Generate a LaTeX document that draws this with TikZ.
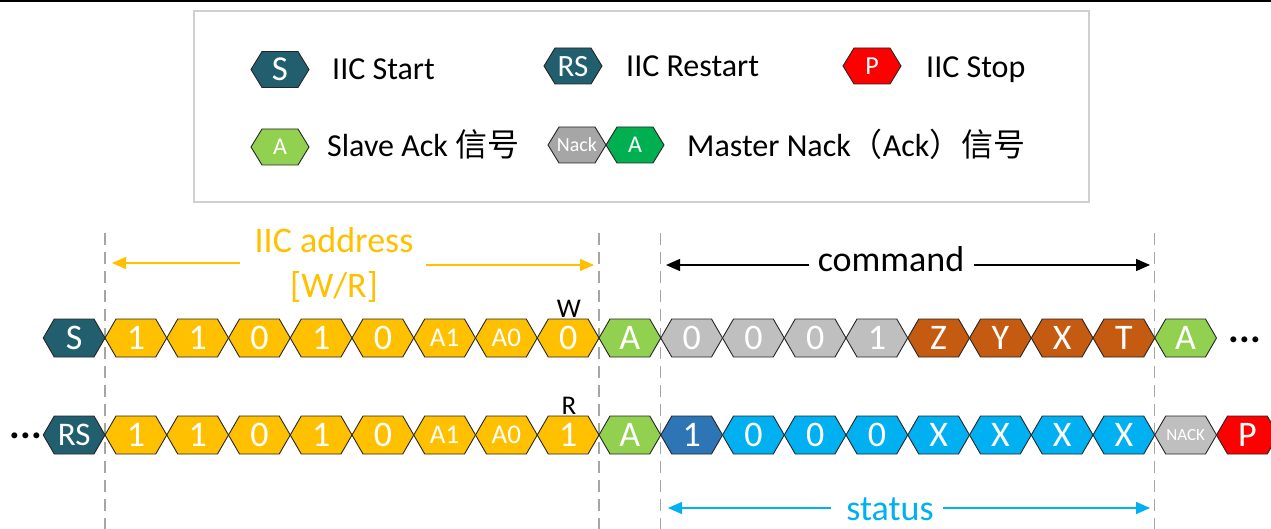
\documentclass[tikz,border=0pt]{standalone}
\usepackage{fontspec}
\setmainfont{Carlito}
\newfontfamily\cjk{Noto Sans CJK SC}
\usetikzlibrary{arrows.meta}
\definecolor{cTeal}{HTML}{215E6E}
\definecolor{cGold}{HTML}{FFC000}
\definecolor{cLGreen}{HTML}{92D050}
\definecolor{cGreen}{HTML}{00B050}
\definecolor{cGray}{HTML}{BFBFBF}
\definecolor{cDGray}{HTML}{A6A6A6}
\definecolor{cBrown}{HTML}{C55A11}
\definecolor{cBlue}{HTML}{2E75B6}
\definecolor{cCyan}{HTML}{00B0F0}
\definecolor{cRed}{HTML}{FF0000}
\definecolor{cGuide}{HTML}{A6A6A6}
\definecolor{cBox}{HTML}{D0D0D0}
\newcommand\myfs[1]{\fontsize{#1}{#1}\selectfont}
% hexagon: #1 name, #2 x, #3 y, #4 fill, #5 text
\def\hw{30.875}\def\hh{19}\def\hi{11}
\newcommand\hexa[5]{%
  \filldraw[hexedge, fill=#4] ({#2-\hw},#3) -- ({#2-\hw+\hi},{#3-\hh}) -- ({#2+\hw-\hi},{#3-\hh}) -- ({#2+\hw},#3) -- ({#2+\hw-\hi},{#3+\hh}) -- ({#2-\hw+\hi},{#3+\hh}) -- cycle;
  \node[hextext] (#1) at (#2,#3) {#5};
}
\begin{document}
\begin{tikzpicture}[x=1pt,y=-1pt,
  hexedge/.style={draw=black!85, line width=0.9pt},
  hextext/.style={text=white, inner sep=0pt, text depth=0pt, font={\myfs{36}}},
  guide/.style={draw=cGuide, line width=1.4pt, dash pattern=on 12pt off 7pt},
  span/.style={line width=1.4pt, -{Triangle[length=14pt,width=12pt]}},
  lbl/.style={inner sep=0pt, anchor=base west, font={\myfs{32}}},
  ann/.style={inner sep=0pt, anchor=base, font={\myfs{36}}},
  rw/.style={inner sep=0pt, anchor=base, font={\myfs{27}}},
  dots/.style={inner sep=0pt, anchor=base, font={\myfs{40}\bfseries}}]
\useasboundingbox (0,0) rectangle (1271,529);
\clip (0,0) rectangle (1271,529);
\fill[black] (0,0) rectangle (1271,2.3);
% legend
\draw[draw=cBox, line width=1.2pt] (194,11) rectangle (1089,202);
\begingroup
\def\hw{29}\def\hh{18}\def\hi{11}
\hexa{lS}{280}{69.5}{cTeal}{\myfs{35}S}
\hexa{lRS}{573}{66}{cTeal}{\myfs{31}RS}
\hexa{lP}{872}{66}{cRed}{\myfs{26}P}
\hexa{lA}{280}{147}{cLGreen}{\myfs{24}A}
\hexa{lNack}{577}{145}{cDGray}{\myfs{20}Nack}
\hexa{lAm}{635}{145}{cGreen}{\myfs{24}A}
\endgroup
\node[lbl] (tStart) at (332,80) {IIC Start};
\node[lbl] (tRestart) at (626,77) {IIC Restart};
\node[lbl] (tStop) at (926,78) {IIC Stop};
\node[lbl] (tSlave) at (327,157) {Slave Ack {\cjk 信号}};
\node[lbl] (tMaster) at (687,157) {Master Nack{\cjk （}Ack{\cjk ）信号}};
% guides
\foreach \gx/\gn in {105/g1,599/g2,660.75/g3,1154.75/g4}{
  \coordinate (\gn t) at (\gx,233);
  \coordinate (\gn b) at (\gx,529);
  \draw[guide] (\gn t) -- (\gn b);
}
% row 1
\hexa{a0}{74.125}{338}{cTeal}{S}
\hexa{a1}{135.875}{338}{cGold}{1}
\hexa{a2}{197.625}{338}{cGold}{1}
\hexa{a3}{259.375}{338}{cGold}{0}
\hexa{a4}{321.125}{338}{cGold}{1}
\hexa{a5}{382.875}{338}{cGold}{0}
\hexa{a6}{444.625}{338}{cGold}{\myfs{27}A1}
\hexa{a7}{506.375}{338}{cGold}{\myfs{27}A0}
\hexa{a8}{568.125}{338}{cGold}{0}
\hexa{a9}{629.875}{338}{cLGreen}{A}
\hexa{a10}{691.625}{338}{cGray}{0}
\hexa{a11}{753.375}{338}{cGray}{0}
\hexa{a12}{815.125}{338}{cGray}{0}
\hexa{a13}{876.875}{338}{cGray}{1}
\hexa{a14}{938.625}{338}{cBrown}{Z}
\hexa{a15}{1000.375}{338}{cBrown}{Y}
\hexa{a16}{1062.125}{338}{cBrown}{X}
\hexa{a17}{1123.875}{338}{cBrown}{T}
\hexa{a18}{1185.625}{338}{cLGreen}{A}
\node[dots] (d1) at (1245,342) {...};
\node[rw] (w) at (569,317) {W};
% row 2
\node[dots] (d2) at (26,438) {...};
\hexa{b0}{74.125}{435}{cTeal}{\myfs{33}RS}
\hexa{b1}{135.875}{435}{cGold}{1}
\hexa{b2}{197.625}{435}{cGold}{1}
\hexa{b3}{259.375}{435}{cGold}{0}
\hexa{b4}{321.125}{435}{cGold}{1}
\hexa{b5}{382.875}{435}{cGold}{0}
\hexa{b6}{444.625}{435}{cGold}{\myfs{27}A1}
\hexa{b7}{506.375}{435}{cGold}{\myfs{27}A0}
\hexa{b8}{568.125}{435}{cGold}{1}
\hexa{b9}{629.875}{435}{cLGreen}{A}
\hexa{b10}{691.625}{435}{cBlue}{1}
\hexa{b11}{753.375}{435}{cCyan}{0}
\hexa{b12}{815.125}{435}{cCyan}{0}
\hexa{b13}{876.875}{435}{cCyan}{0}
\hexa{b14}{938.625}{435}{cCyan}{X}
\hexa{b15}{1000.375}{435}{cCyan}{X}
\hexa{b16}{1062.125}{435}{cCyan}{X}
\hexa{b17}{1123.875}{435}{cCyan}{X}
\hexa{b18}{1185.625}{435}{cGray}{\myfs{17}NACK}
\hexa{b19}{1247.375}{435}{cRed}{P}
\node[rw] (r) at (569,414) {R};
% annotations
\node[ann, text=cGold] (addr) at (334,253) {IIC address};
\node[ann, text=cGold] (wr) at (334,298) {[W/R]};
\coordinate (addrLs) at (240,263); \coordinate (addrLe) at (112,263);
\coordinate (addrRs) at (426,265); \coordinate (addrRe) at (594,265);
\draw[span, cGold] (addrLs) -- (addrLe);
\draw[span, cGold] (addrRs) -- (addrRe);
\node[ann] (cmd) at (891,272) {command};
\coordinate (cmdLs) at (809,265); \coordinate (cmdLe) at (666,265);
\coordinate (cmdRs) at (974,265); \coordinate (cmdRe) at (1150,265);
\draw[span, black] (cmdLs) -- (cmdLe);
\draw[span, black] (cmdRs) -- (cmdRe);
\node[ann, text=cCyan] (stat) at (890,520) {status};
\coordinate (stLs) at (831,508); \coordinate (stLe) at (668,508);
\coordinate (stRs) at (943,508); \coordinate (stRe) at (1150,508);
\draw[span, cCyan] (stLs) -- (stLe);
\draw[span, cCyan] (stRs) -- (stRe);
\end{tikzpicture}
\end{document}
